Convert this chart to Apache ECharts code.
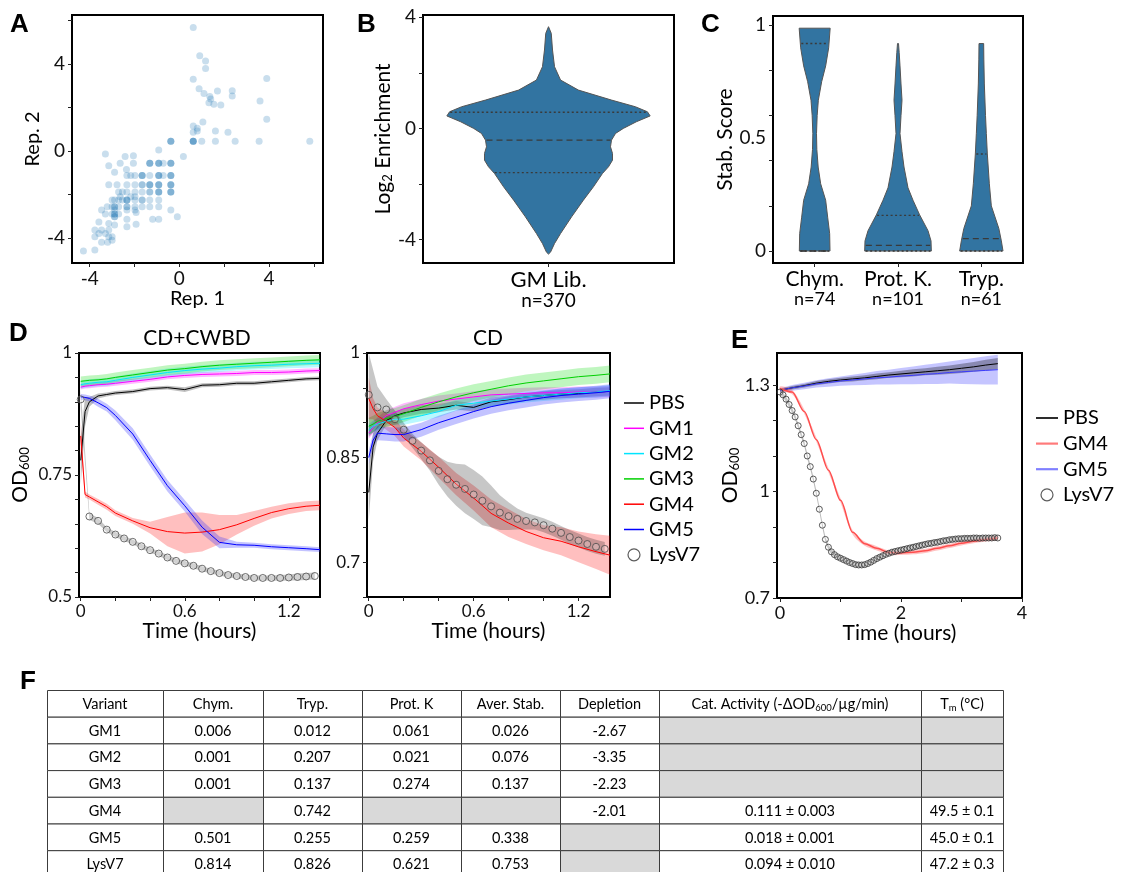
<!DOCTYPE html>
<html>
<head>
<meta charset="utf-8">
<script src="https://cdn.jsdelivr.net/npm/echarts@6/dist/echarts.min.js"></script>
<style>
  html, body { margin: 0; padding: 0; background: #fff; }
  #chart { width: 1125px; height: 872px; }
</style>
</head>
<body>
<div id="chart"></div>
<script>
// ---------------- Panel A: replicate log2 enrichment ----------------
// repeated pairs are variants that fall on the same spot (drawn darker)
const repPairs = [
  [0.62,5.67],[0.91,4.38],[1.17,4.14],[1.17,3.79],[0.62,3.30],[3.90,3.33],
  [0.88,2.86],[1.10,2.64],[1.70,2.76],[2.36,2.77],[2.36,2.53],[1.36,2.50],
  [1.40,2.39],[1.32,2.22],[1.54,2.15],[1.85,2.11],[3.60,2.30],[3.90,1.46],
  [1.05,1.33],[0.62,1.15],[0.80,1.04],[0.80,0.92],[0.62,0.86],[1.61,0.92],[2.17,0.86],
  [0.62,0.45],[0.62,0.45],[0.62,0.45],[0.62,0.45],[1.00,0.45],[1.61,0.45],[2.49,0.45],[3.56,0.45],[5.82,0.45],
  [-0.38,0.45],[-0.38,0.45],[-0.38,0.45],
  [-0.92,0.05],[0.18,-0.26],[-0.09,-3.02],[-0.38,-2.71],
  [-0.38,-0.57],[-0.38,-0.57],[-0.38,-0.57],
  [-0.38,-1.13],[-0.38,-1.13],[-0.38,-1.13],
  [-0.38,-1.55],[-0.38,-1.55],[-0.38,-1.55],
  [-0.38,-1.89],[-0.38,-1.89],[-0.38,-1.89],
  [-2.64,-0.57],[-2.05,-0.57],[-1.32,-0.57],[-1.32,-0.57],[-1.32,-0.57],
  [-0.92,-0.57],[-0.92,-0.57],[-0.92,-0.57],[-0.72,-0.57],
  [-2.42,-0.26],[-2.05,-0.22],[-3.30,-0.14],[-3.15,-0.68],[-2.89,-0.98],[-2.36,-0.85],
  [-2.34,-1.13],[-2.17,-1.13],[-1.98,-1.13],[-1.66,-1.13],[-1.66,-1.13],[-1.66,-1.13],
  [-1.32,-1.13],[-0.92,-1.13],[-0.92,-1.13],[-0.92,-1.13],[-0.72,-1.13],
  [-3.15,-1.55],[-2.78,-1.55],[-2.34,-1.55],[-1.98,-1.55],[-1.66,-1.55],[-1.66,-1.55],
  [-1.32,-1.55],[-1.32,-1.55],[-1.32,-1.55],[-0.92,-1.55],[-0.92,-1.55],[-0.92,-1.55],
  [-2.71,-1.89],[-2.54,-1.89],[-2.34,-1.89],[-1.98,-1.89],[-1.66,-1.89],
  [-1.32,-1.89],[-1.32,-1.89],[-0.92,-1.89],[-0.92,-1.89],[-0.92,-1.89],
  [-2.64,-2.10],[-2.17,-2.10],[-1.98,-2.10],
  [-3.00,-2.25],[-2.89,-2.25],[-2.71,-2.25],[-2.54,-2.25],[-2.34,-2.25],[-2.34,-2.25],[-2.34,-2.25],
  [-1.98,-2.25],[-1.66,-2.25],[-1.66,-2.25],[-1.32,-2.25],[-0.92,-2.25],
  [-3.22,-2.56],[-3.00,-2.56],[-2.89,-2.56],[-2.89,-2.56],[-2.71,-2.56],[-2.34,-2.56],[-2.34,-2.56],
  [-1.98,-2.56],[-1.66,-2.56],[-1.32,-2.56],[-0.92,-2.56],
  [-3.47,-2.71],[-2.89,-2.71],[-2.34,-2.71],[-1.98,-2.71],
  [-3.30,-2.90],[-3.00,-2.90],[-2.89,-2.90],[-2.89,-2.90],[-2.71,-2.90],[-1.93,-2.83],
  [-2.89,-3.02],[-2.89,-3.02],[-2.34,-3.14],[-1.19,-3.14],[-0.92,-3.14],
  [-3.59,-3.26],[-3.15,-3.33],[-2.89,-3.40],[-2.34,-3.48],[-1.93,-3.37],
  [-3.77,-3.63],[-3.59,-3.79],[-3.47,-3.63],[-3.30,-3.79],[-3.15,-3.63],[-3.00,-3.94],
  [-3.77,-3.94],[-3.15,-3.94],[-3.20,-4.20],[-3.00,-4.10],[-3.47,-4.20],
  [-4.28,-4.60],[-3.77,-4.55]
];
const repTicks = [-4, -2, 0, 2, 4, 6];
const repLabels = [-4, 0, 4];

// ---------------- Panel B: library enrichment violin ----------------
const libName = ['GM Lib.'];
const libCount = [370];
const libViolinY = [3.66, 3.42, 2.82, 2.22, 1.74, 1.38, 1.02, 0.78, 0.60, 0.45, 0.24, 0.00, -0.18,
  -0.42, -0.66, -0.90, -1.14, -1.38, -1.62, -2.10, -2.58, -3.18, -3.78, -4.14, -4.45, -4.52];
const libViolinHalf = [0, 0.011, 0.016, 0.024, 0.048, 0.119, 0.251, 0.346, 0.394, 0.405, 0.350, 0.298, 0.267,
  0.251, 0.247, 0.255, 0.255, 0.239, 0.215, 0.179, 0.139, 0.092, 0.048, 0.024, 0.008, 0];
const libQuartiles = [-1.59, -0.42, 0.58]; // Q1, median, Q3
const libTicks = [-4, -2, 0, 2, 4];
const libLabels = [-4, 0, 4];

// ---------------- Panel C: protease stability violins ----------------
const proteases = ['Chym.', 'Prot. K.', 'Tryp.'];
const proteaseCounts = [74, 101, 61];
const stabViolinY = [
  [0, 0.077, 0.15, 0.225, 0.298, 0.372, 0.45, 0.52, 0.60, 0.668, 0.75, 0.82, 0.90, 0.987],
  [0, 0.045, 0.09, 0.16, 0.225, 0.28, 0.372, 0.44, 0.52, 0.60, 0.668, 0.74, 0.82, 0.88, 0.919],
  [0, 0.045, 0.10, 0.20, 0.298, 0.43, 0.52, 0.60, 0.74, 0.85, 0.919]
];
const stabViolinHalf = [
  [0.184, 0.180, 0.156, 0.132, 0.072, 0.042, 0.026, 0.022, 0.030, 0.044, 0.084, 0.132, 0.168, 0.186],
  [0.400, 0.396, 0.360, 0.260, 0.180, 0.120, 0.072, 0.048, 0.024, 0.036, 0.048, 0.036, 0.024, 0.014, 0.006],
  [0.260, 0.240, 0.210, 0.120, 0.096, 0.072, 0.060, 0.050, 0.036, 0.030, 0.028]
];
const stabQuartiles = [[0, 0, 0.919], [0, 0.025, 0.158], [0, 0.055, 0.43]];
const stabTicks = [0, 0.2, 0.4, 0.6, 0.8, 1];
const stabLabels = [0, 0.5, 1];

// ---------------- Panel D: lysis time courses (OD600) ----------------
const timeD = [0, 0.025, 0.05, 0.1, 0.15, 0.2, 0.3, 0.4, 0.5, 0.6, 0.7, 0.8, 0.9, 1.0, 1.1, 1.2, 1.3, 1.38];
const timeDLys = [0, 0.05, 0.1, 0.15, 0.2, 0.25, 0.3, 0.35, 0.4, 0.45, 0.5, 0.55, 0.6, 0.65,
  0.7, 0.75, 0.8, 0.85, 0.9, 0.95, 1.0, 1.05, 1.1, 1.15, 1.2, 1.25, 1.3, 1.35];

// CD+CWBD
const cwbdPBS   = [0.78, 0.88, 0.90, 0.912, 0.915, 0.918, 0.921, 0.927, 0.929, 0.925, 0.934, 0.935, 0.938, 0.938, 0.941, 0.944, 0.947, 0.948];
const cwbdPBSsd = [0.05, 0.03, 0.01, 0.005, 0.004, 0.004, 0.004, 0.004, 0.004, 0.005, 0.004, 0.004, 0.004, 0.004, 0.004, 0.004, 0.004, 0.004];
const cwbdGM1   = [0.93, 0.932, 0.933, 0.935, 0.936, 0.938, 0.942, 0.946, 0.951, 0.954, 0.956, 0.957, 0.958, 0.960, 0.960, 0.961, 0.963, 0.964];
const cwbdGM1sd = 0.005;
const cwbdGM2   = [0.935, 0.937, 0.938, 0.940, 0.941, 0.944, 0.950, 0.955, 0.960, 0.964, 0.967, 0.969, 0.972, 0.974, 0.975, 0.977, 0.978, 0.979];
const cwbdGM2sd = 0.008;
const cwbdGM3   = [0.942, 0.943, 0.944, 0.945, 0.947, 0.950, 0.955, 0.960, 0.965, 0.968, 0.972, 0.975, 0.977, 0.979, 0.981, 0.983, 0.985, 0.986];
const cwbdGM3sd = 0.01;
const cwbdGM4   = [0.83, 0.71, 0.705, 0.695, 0.685, 0.672, 0.656, 0.642, 0.634, 0.631, 0.633, 0.638, 0.648, 0.661, 0.673, 0.681, 0.686, 0.688];
const cwbdGM4sd = [0.03, 0.006, 0.005, 0.006, 0.006, 0.006, 0.006, 0.012, 0.03, 0.042, 0.04, 0.03, 0.02, 0.015, 0.012, 0.011, 0.01, 0.01];
const cwbdGM5   = [0.91, 0.909, 0.907, 0.898, 0.888, 0.872, 0.834, 0.78, 0.728, 0.687, 0.643, 0.612, 0.607, 0.606, 0.603, 0.601, 0.599, 0.597];
const cwbdGM5sd = [0.006, 0.006, 0.006, 0.008, 0.008, 0.01, 0.012, 0.012, 0.012, 0.012, 0.014, 0.012, 0.006, 0.005, 0.005, 0.005, 0.005, 0.005];
const cwbdLys   = [0.905, 0.665, 0.656, 0.638, 0.628, 0.620, 0.613, 0.604, 0.596, 0.589, 0.581, 0.574, 0.569, 0.564,
  0.558, 0.553, 0.549, 0.545, 0.543, 0.541, 0.539, 0.539, 0.539, 0.539, 0.540, 0.541, 0.542, 0.543];
const cwbdLysSd = [0.02, 0.007, 0.006, 0.005, 0.005, 0.005, 0.005, 0.005, 0.005, 0.005, 0.005, 0.005, 0.005, 0.005,
  0.005, 0.005, 0.005, 0.005, 0.005, 0.005, 0.005, 0.005, 0.005, 0.006, 0.006, 0.007, 0.007, 0.007];

// CD
const cdPBS   = [0.80, 0.865, 0.885, 0.903, 0.910, 0.914, 0.919, 0.921, 0.925, 0.922, 0.930, 0.933, 0.937, 0.939, 0.941, 0.942, 0.944, 0.945];
const cdPBSsd = [0.04, 0.02, 0.01, 0.006, 0.006, 0.006, 0.006, 0.006, 0.006, 0.006, 0.006, 0.006, 0.006, 0.006, 0.006, 0.006, 0.006, 0.006];
const cdGM1   = [0.885, 0.893, 0.900, 0.910, 0.915, 0.920, 0.926, 0.931, 0.934, 0.937, 0.940, 0.941, 0.942, 0.943, 0.943, 0.944, 0.944, 0.945];
const cdGM1sd = 0.008;
const cdGM2   = [0.890, 0.895, 0.898, 0.902, 0.905, 0.905, 0.910, 0.916, 0.925, 0.928, 0.931, 0.934, 0.937, 0.939, 0.941, 0.943, 0.944, 0.946];
const cdGM2sd = 0.008;
const cdGM3   = [0.895, 0.898, 0.902, 0.906, 0.909, 0.913, 0.922, 0.930, 0.937, 0.943, 0.948, 0.953, 0.957, 0.960, 0.963, 0.966, 0.968, 0.970];
const cdGM3sd = 0.012;
const cdGM4   = [0.935, 0.920, 0.910, 0.902, 0.893, 0.878, 0.859, 0.836, 0.812, 0.792, 0.770, 0.756, 0.744, 0.735, 0.730, 0.722, 0.715, 0.710];
const cdGM4sd = [0.03, 0.015, 0.012, 0.012, 0.012, 0.012, 0.013, 0.015, 0.016, 0.018, 0.02, 0.02, 0.018, 0.018, 0.02, 0.022, 0.025, 0.028];
const cdGM5   = [0.850, 0.875, 0.885, 0.884, 0.883, 0.883, 0.890, 0.900, 0.908, 0.916, 0.923, 0.928, 0.932, 0.936, 0.939, 0.941, 0.943, 0.945];
const cdGM5sd = 0.01;
const cdLys   = [0.940, 0.922, 0.919, 0.905, 0.890, 0.874, 0.860, 0.846, 0.831, 0.819, 0.811, 0.805, 0.797, 0.788,
  0.780, 0.771, 0.766, 0.762, 0.759, 0.757, 0.753, 0.748, 0.742, 0.736, 0.731, 0.726, 0.722, 0.719];
const cdLysSd = [0.06, 0.03, 0.015, 0.012, 0.01, 0.01, 0.012, 0.015, 0.02, 0.025, 0.03, 0.035, 0.035, 0.035,
  0.03, 0.025, 0.02, 0.015, 0.012, 0.01, 0.01, 0.01, 0.01, 0.01, 0.01, 0.01, 0.01, 0.01];

const timeTicksD = [0, 0.2, 0.4, 0.6, 0.8, 1.0, 1.2];
const timeLabelsD = [0, 0.6, 1.2];
const odTicksCWBD = [0.5, 0.55, 0.6, 0.65, 0.7, 0.75, 0.8, 0.85, 0.9, 0.95, 1];
const odLabelsCWBD = [0.5, 0.75, 1];
const odTicksCD = [0.65, 0.7, 0.75, 0.8, 0.85, 0.9, 0.95, 1];
const odLabelsCD = [0.7, 0.85, 1];

// ---------------- Panel E: longer lysis time course ----------------
const timeE = [0, 0.2, 0.4, 0.6, 0.8, 1.0, 1.2, 1.4, 1.6, 1.8, 2.0, 2.2, 2.4, 2.6, 2.8, 3.0, 3.2, 3.4, 3.6];
const ePBS   = [1.285, 1.292, 1.298, 1.305, 1.310, 1.314, 1.317, 1.320, 1.324, 1.328, 1.331, 1.334, 1.337, 1.340, 1.343, 1.347, 1.351, 1.356, 1.360];
const ePBSsd = [0.004, 0.005, 0.005, 0.006, 0.006, 0.006, 0.007, 0.007, 0.008, 0.008, 0.009, 0.010, 0.010, 0.011, 0.012, 0.013, 0.014, 0.015, 0.016];
const eGM5   = [1.285, 1.292, 1.297, 1.303, 1.307, 1.311, 1.314, 1.317, 1.320, 1.322, 1.325, 1.327, 1.330, 1.332, 1.335, 1.337, 1.339, 1.341, 1.343];
const eGM5sd = [0.006, 0.008, 0.009, 0.010, 0.012, 0.013, 0.015, 0.017, 0.019, 0.021, 0.023, 0.025, 0.027, 0.029, 0.031, 0.034, 0.037, 0.040, 0.042];
const eGM4   = [1.290, 1.280, 1.225, 1.146, 1.060, 0.975, 0.885, 0.853, 0.840, 0.828, 0.827, 0.829, 0.833, 0.840, 0.847, 0.854, 0.860, 0.865, 0.869];
const eGM4sd = 0.006;
const timeELys = [0, 0.05, 0.1, 0.15, 0.2, 0.25, 0.3, 0.35, 0.4, 0.45, 0.5, 0.55, 0.6, 0.65, 0.7, 0.75, 0.8, 0.85, 0.9, 0.95,
  1, 1.05, 1.1, 1.15, 1.2, 1.25, 1.3, 1.35, 1.4, 1.45, 1.5, 1.55, 1.6, 1.65, 1.7, 1.75, 1.8, 1.85, 1.9, 1.95,
  2, 2.05, 2.1, 2.15, 2.2, 2.25, 2.3, 2.35, 2.4, 2.45, 2.5, 2.55, 2.6, 2.65, 2.7, 2.75, 2.8, 2.85, 2.9, 2.95,
  3, 3.05, 3.1, 3.15, 3.2, 3.25, 3.3, 3.35, 3.4, 3.45, 3.5, 3.55, 3.6];
const eLys = [1.280, 1.272, 1.260, 1.245, 1.228, 1.210, 1.185, 1.160, 1.135, 1.100,
  1.070, 1.035, 0.995, 0.950, 0.905, 0.865, 0.843, 0.830, 0.822, 0.816,
  0.812, 0.808, 0.804, 0.800, 0.797, 0.794, 0.793, 0.793, 0.794, 0.797,
  0.801, 0.806, 0.811, 0.815, 0.819, 0.823, 0.826, 0.829, 0.831, 0.833,
  0.835, 0.837, 0.839, 0.841, 0.843, 0.845, 0.847, 0.849, 0.851, 0.853,
  0.854, 0.856, 0.857, 0.859, 0.861, 0.862, 0.864, 0.865, 0.866, 0.867,
  0.867, 0.868, 0.868, 0.868, 0.869, 0.869, 0.868, 0.869, 0.869, 0.869,
  0.869, 0.870, 0.869];
const eLysSd = 0.007;
const timeTicksE = [0, 1, 2, 3, 4];
const timeLabelsE = [0, 2, 4];
const odTicksE = [0.7, 0.8, 0.9, 1.0, 1.1, 1.2, 1.3];
const odLabelsE = [0.7, 1, 1.3];

// ---------------- Panel F: summary table ----------------
const tableHeader = ['Variant', 'Chym.', 'Tryp.', 'Prot. K', 'Aver. Stab.', 'Depletion',
  'Cat. Activity (-\u0394OD{s|600}/\u00b5g/min)', 'T{s|m} (\u00b0C)'];
const variants   = ['GM1', 'GM2', 'GM3', 'GM4', 'GM5', 'LysV7'];
const chymCol    = ['0.006', '0.001', '0.001', null, '0.501', '0.814'];
const trypCol    = ['0.012', '0.207', '0.137', '0.742', '0.255', '0.826'];
const protKCol   = ['0.061', '0.021', '0.274', null, '0.259', '0.621'];
const averCol    = ['0.026', '0.076', '0.137', null, '0.338', '0.753'];
const depleteCol = ['-2.67', '-3.35', '-2.23', '-2.01', null, null];
const catActCol  = [null, null, null, '0.111 \u00b1 0.003', '0.018 \u00b1 0.001', '0.094 \u00b1 0.010'];
const tmCol      = [null, null, null, '49.5 \u00b1 0.1', '45.0 \u00b1 0.1', '47.2 \u00b1 0.3'];

// ---------------- drawing ----------------
const FONT = 'Lato, "Open Sans", sans-serif';
const chart = echarts.init(document.getElementById('chart'));

const gridBoxes = [
  { left: 72,  top: 15,  width: 251, height: 248 },  // A
  { left: 423, top: 15,  width: 251, height: 248 },  // B
  { left: 773, top: 16,  width: 250, height: 247 },  // C
  { left: 79,  top: 353, width: 241, height: 244 },  // D CD+CWBD
  { left: 367, top: 353, width: 243, height: 244 },  // D CD
  { left: 777, top: 353, width: 245, height: 245 }   // E
].map(g => Object.assign({ show: true, borderColor: '#000', borderWidth: 2, backgroundColor: '#fff',
  containLabel: false, outerBoundsMode: 'none' }, g));

function subRich(size) {
  return { s: { fontSize: Math.round(size * 0.64), fontFamily: FONT, padding: [Math.round(size * 0.45), 0, 0, 0] } };
}

function valueAxis(idx, min, max, ticks, labels, name, nameGap, isY, labelSize, nameSize) {
  const ns = nameSize || 20;
  return {
    type: 'value', gridIndex: idx, min, max,
    axisLine: { show: false, onZero: false }, splitLine: { show: false },
    axisTick: { show: true, customValues: ticks, length: 4, lineStyle: { color: '#222', width: 1 } },
    axisLabel: { customValues: labels, fontSize: labelSize || 18, fontFamily: FONT, color: '#111', margin: isY ? 7 : 6 },
    name, nameLocation: 'middle', nameGap,
    nameRotate: isY ? 90 : 0,
    nameTextStyle: { fontSize: ns, fontFamily: FONT, color: '#000', rich: subRich(ns) }
  };
}

function catAxis(idx, cats, counts, nameSize, countSize) {
  return {
    type: 'category', gridIndex: idx, data: cats,
    axisLine: { show: false, onZero: false }, splitLine: { show: false },
    axisTick: { show: true, alignWithLabel: true, length: 4, lineStyle: { color: '#222' } },
    axisLabel: {
      margin: 6, interval: 0,
      formatter: (v, i) => '{a|' + v + '}\n{b|n=' + counts[i] + '}',
      rich: {
        a: { fontSize: nameSize, fontFamily: FONT, color: '#000', lineHeight: nameSize },
        b: { fontSize: countSize, fontFamily: FONT, color: '#000', lineHeight: countSize }
      }
    }
  };
}

const xAxes = [
  valueAxis(0, -4.79, 6.41, repTicks, repLabels, 'Rep. 1', 18, false, 19, 20),
  catAxis(1, libName, libCount, 22, 19),
  catAxis(2, proteases, proteaseCounts, 21, 18),
  valueAxis(3, -0.01, 1.38, timeTicksD, timeLabelsD, 'Time (hours)', 21, false, 17, 21),
  valueAxis(4, -0.01, 1.38, timeTicksD, timeLabelsD, 'Time (hours)', 21, false, 17, 21),
  valueAxis(5, -0.05, 4, timeTicksE, timeLabelsE, 'Time (hours)', 21, false, 18, 21)
];
const yAxes = [
  valueAxis(0, -5.15, 6.25, repTicks, repLabels, 'Rep. 2', 23, true, 19, 20),
  valueAxis(1, -4.84, 4.08, libTicks, libLabels, 'Log{s|2} Enrichment', 24, true, 19, 21),
  valueAxis(2, -0.053, 1.041, stabTicks, stabLabels, 'Stab. Score', 33, true, 19, 21),
  valueAxis(3, 0.5, 1.0, odTicksCWBD, odLabelsCWBD, 'OD{s|600}', 48, true, 17, 21),
  valueAxis(4, 0.65, 1.0, odTicksCD, odLabelsCD, '', 0, true, 17, 21),
  valueAxis(5, 0.7, 1.39, odTicksE, odLabelsE, 'OD{s|600}', 30, true, 18, 21)
];

// shaded spread around a mean curve, drawn as one polygon through the axes' scales
function bandSeries(grid, ts, mean, sd, fill, smooth) {
  const rows = ts.map((t, i) => {
    const s = Array.isArray(sd) ? sd[i] : sd;
    return [t, mean[i] - s, mean[i] + s];
  });
  return {
    type: 'custom', xAxisIndex: grid, yAxisIndex: grid, clip: true, silent: true, z: 2,
    data: rows, encode: { x: 0, y: [1, 2] },
    renderItem(params, api) {
      if (params.dataIndex !== 0) return null;
      const upper = rows.map(r => api.coord([r[0], r[2]]));
      const lower = rows.map(r => api.coord([r[0], r[1]])).reverse();
      return { type: 'polygon', shape: { points: upper.concat(lower), smooth: smooth || 0 }, style: { fill } };
    }
  };
}

function lineSeries(name, grid, ts, vals, color, width, smooth) {
  return {
    name, type: 'line', xAxisIndex: grid, yAxisIndex: grid, symbol: 'none', silent: true, clip: true, z: 3,
    smooth: smooth || false, smoothMonotone: 'x',
    data: ts.map((t, i) => [t, vals[i]]),
    lineStyle: { color, width: width || 1 }, itemStyle: { color }
  };
}

function ringSeries(grid, ts, vals, size, border) {
  return {
    name: 'LysV7', type: 'scatter', xAxisIndex: grid, yAxisIndex: grid, symbol: 'circle', symbolSize: size,
    silent: true, clip: true, z: 4,
    data: ts.map((t, i) => [t, vals[i]]),
    itemStyle: { color: 'rgba(255,255,255,0.25)', borderColor: border || '#4a4a4a', borderWidth: 1 }
  };
}

// half-width of a violin profile at a given value, for the quartile lines
function halfAt(ys, hs, y) {
  for (let i = 0; i < ys.length - 1; i++) {
    const a = ys[i], b = ys[i + 1];
    if ((y - a) * (y - b) <= 0) {
      const f = a === b ? 0 : (y - a) / (b - a);
      return hs[i] + f * (hs[i + 1] - hs[i]);
    }
  }
  return 0;
}

function violinShape(api, idx, ys, hs, quart) {
  const bw = api.size([1, 0])[0];
  const right = ys.map((y, i) => { const p = api.coord([idx, y]); return [p[0] + hs[i] * bw, p[1]]; });
  const left = ys.map((y, i) => { const p = api.coord([idx, y]); return [p[0] - hs[i] * bw, p[1]]; }).reverse();
  const children = [{
    type: 'polygon', shape: { points: right.concat(left) },
    style: { fill: '#3274a1', stroke: '#555', lineWidth: 1 }
  }];
  const dashes = [[2, 2.5], [6, 4], [2, 2.5]];
  quart.forEach((q, k) => {
    const p = api.coord([idx, q]);
    const h = halfAt(ys, hs, q) * bw;
    children.push({
      type: 'line', shape: { x1: p[0] - h + 1, y1: p[1], x2: p[0] + h - 1, y2: p[1] },
      style: { stroke: '#3a3a3a', lineWidth: 1.4, lineDash: dashes[k] }
    });
  });
  return { type: 'group', children };
}

const series = [
  // A
  {
    type: 'scatter', xAxisIndex: 0, yAxisIndex: 0, data: repPairs, symbolSize: 7, silent: true,
    itemStyle: { color: 'rgba(31,119,180,0.30)' }
  },
  // B
  {
    type: 'custom', xAxisIndex: 1, yAxisIndex: 1, silent: true, data: [[0, 0]], encode: { x: 0, y: 1 },
    renderItem: (params, api) => violinShape(api, 0, libViolinY, libViolinHalf, libQuartiles)
  },
  // C
  {
    type: 'custom', xAxisIndex: 2, yAxisIndex: 2, silent: true,
    data: proteases.map((p, i) => [i, 0]), encode: { x: 0, y: 1 },
    renderItem: (params, api) => {
      const i = params.dataIndex;
      return violinShape(api, i, stabViolinY[i], stabViolinHalf[i], stabQuartiles[i]);
    }
  },
  // D: CD+CWBD
  bandSeries(3, timeD, cwbdPBS, cwbdPBSsd, 'rgba(0,0,0,0.25)'),
  bandSeries(3, timeD, cwbdGM1, cwbdGM1sd, 'rgba(255,0,255,0.28)'),
  bandSeries(3, timeD, cwbdGM2, cwbdGM2sd, 'rgba(0,230,255,0.28)'),
  bandSeries(3, timeD, cwbdGM3, cwbdGM3sd, 'rgba(0,220,0,0.25)'),
  bandSeries(3, timeD, cwbdGM4, cwbdGM4sd, 'rgba(255,0,0,0.25)'),
  bandSeries(3, timeD, cwbdGM5, cwbdGM5sd, 'rgba(40,40,255,0.28)'),
  bandSeries(3, timeDLys, cwbdLys, cwbdLysSd, 'rgba(0,0,0,0.22)'),
  lineSeries('PBS', 3, timeD, cwbdPBS, '#000000'),
  lineSeries('GM1', 3, timeD, cwbdGM1, '#ff00ff'),
  lineSeries('GM2', 3, timeD, cwbdGM2, '#00e5ff'),
  lineSeries('GM3', 3, timeD, cwbdGM3, '#00d000'),
  lineSeries('GM4', 3, timeD, cwbdGM4, '#ff0000'),
  lineSeries('GM5', 3, timeD, cwbdGM5, '#0000ff'),
  ringSeries(3, timeDLys, cwbdLys, 7),
  // D: CD
  bandSeries(4, timeD, cdPBS, cdPBSsd, 'rgba(0,0,0,0.25)'),
  bandSeries(4, timeD, cdGM1, cdGM1sd, 'rgba(255,0,255,0.28)'),
  bandSeries(4, timeD, cdGM2, cdGM2sd, 'rgba(0,230,255,0.28)'),
  bandSeries(4, timeD, cdGM3, cdGM3sd, 'rgba(0,220,0,0.25)'),
  bandSeries(4, timeD, cdGM4, cdGM4sd, 'rgba(255,0,0,0.25)'),
  bandSeries(4, timeD, cdGM5, cdGM5sd, 'rgba(40,40,255,0.28)'),
  bandSeries(4, timeDLys, cdLys, cdLysSd, 'rgba(0,0,0,0.22)'),
  lineSeries('PBS', 4, timeD, cdPBS, '#000000'),
  lineSeries('GM1', 4, timeD, cdGM1, '#ff00ff'),
  lineSeries('GM2', 4, timeD, cdGM2, '#00e5ff'),
  lineSeries('GM3', 4, timeD, cdGM3, '#00d000'),
  lineSeries('GM4', 4, timeD, cdGM4, '#ff0000'),
  lineSeries('GM5', 4, timeD, cdGM5, '#0000ff'),
  ringSeries(4, timeDLys, cdLys, 7),
  // E
  bandSeries(5, timeE, eGM5, eGM5sd, 'rgba(90,90,255,0.35)'),
  bandSeries(5, timeE, ePBS, ePBSsd, 'rgba(0,0,0,0.30)'),
  bandSeries(5, timeE, eGM4, eGM4sd, 'rgba(255,80,80,0.35)', 0.3),
  bandSeries(5, timeELys, eLys, eLysSd, 'rgba(0,0,0,0.28)'),
  lineSeries('PBS', 5, timeE, ePBS, '#000000'),
  lineSeries('GM5', 5, timeE, eGM5, '#3a3aff'),
  lineSeries('GM4', 5, timeE, eGM4, '#ff4d4d', 1.5, 0.3),
  ringSeries(5, timeELys, eLys, 6, '#333')
];

// ---- panel F table as graphic cells ----
const colEdges = [47, 163, 263, 362, 461, 560, 659, 921, 1003];
const rowTop = 690, rowH = 26.7;
const tableCols = [variants, chymCol, trypCol, protKCol, averCol, depleteCol, catActCol, tmCol];
const tableRich = {
  s: { fontSize: 9.5, fontFamily: FONT, color: '#000', padding: [7, 0, 0, 0] }
};
const tableEls = [];
function addCell(c, r, text) {
  const x = colEdges[c], y = rowTop + r * rowH, w = colEdges[c + 1] - colEdges[c];
  tableEls.push({
    type: 'rect', shape: { x: x + 0.5, y: y + 0.5, width: w, height: rowH }, silent: true,
    style: { fill: text === null ? '#d9d9d9' : '#ffffff', stroke: '#3c3c3c', lineWidth: 1 }
  });
  if (text !== null) {
    tableEls.push({
      type: 'text', x: x + w / 2, y: y + rowH / 2 + 1, silent: true,
      style: {
        text: text, fill: '#000', fontSize: 14.5, fontFamily: FONT,
        align: 'center', verticalAlign: 'middle', textAlign: 'center', textVerticalAlign: 'middle',
        rich: tableRich
      }
    });
  }
}
tableHeader.forEach((h, c) => addCell(c, 0, h));
variants.forEach((v, r) => tableCols.forEach((col, c) => addCell(c, r + 1, col[r])));

function label(text, x, y, opts) {
  return {
    type: 'text', x, y, silent: true,
    style: Object.assign({
      text, fill: '#000', fontSize: 21, fontFamily: FONT,
      align: 'center', verticalAlign: 'middle', textAlign: 'center', textVerticalAlign: 'middle'
    }, opts || {})
  };
}
const letterStyle = { fontSize: 26, fontWeight: 'bold', fontFamily: '"Liberation Sans", Arial, sans-serif', align: 'left', textAlign: 'left' };
const graphics = [
  label('A', 10, 25, letterStyle),
  label('B', 357, 25, letterStyle),
  label('C', 701, 25, letterStyle),
  label('D', 9, 334, letterStyle),
  label('E', 731, 341, letterStyle),
  label('F', 20, 682, letterStyle),
  label('CD+CWBD', 197, 338),
  label('CD', 488, 338)
].concat(tableEls);

// plain stroke icons for the line entries of the legends
const lineIconThin = 'path://M0,0H20V1.5H0Z';
const lineIconWide = 'path://M0,0H22V2.2H0Z';
function lineEntry(name, color, icon) {
  return { name, icon, itemStyle: { color, borderColor: color, borderWidth: 0 } };
}
const ringLegend = { name: 'LysV7', icon: 'circle', itemStyle: { color: 'rgba(255,255,255,0)', borderColor: '#333', borderWidth: 1.2 } };

const option = {
  animation: false,
  backgroundColor: '#fff',
  textStyle: { fontFamily: FONT },
  grid: gridBoxes,
  xAxis: xAxes,
  yAxis: yAxes,
  legend: [
    {
      left: 619, top: 388, orient: 'vertical', itemWidth: 20, itemHeight: 12, itemGap: 5.3,
      symbolKeepAspect: true, selectedMode: false,
      textStyle: { fontSize: 20, fontFamily: FONT, color: '#000' },
      data: [
        lineEntry('PBS', '#000000', lineIconThin),
        lineEntry('GM1', '#ff00ff', lineIconThin),
        lineEntry('GM2', '#00e5ff', lineIconThin),
        lineEntry('GM3', '#00d000', lineIconThin),
        lineEntry('GM4', '#ff0000', lineIconThin),
        lineEntry('GM5', '#0000ff', lineIconThin),
        ringLegend
      ]
    },
    {
      left: 1031, top: 403, orient: 'vertical', itemWidth: 22, itemHeight: 12, itemGap: 5.6,
      symbolKeepAspect: true, selectedMode: false,
      textStyle: { fontSize: 20, fontFamily: FONT, color: '#000' },
      data: [
        lineEntry('PBS', '#000000', lineIconThin),
        lineEntry('GM4', '#ff7a7a', lineIconWide),
        lineEntry('GM5', '#7f7fff', lineIconWide),
        ringLegend
      ]
    }
  ],
  graphic: graphics,
  series
};
chart.setOption(option);
</script>
</body>
</html>
